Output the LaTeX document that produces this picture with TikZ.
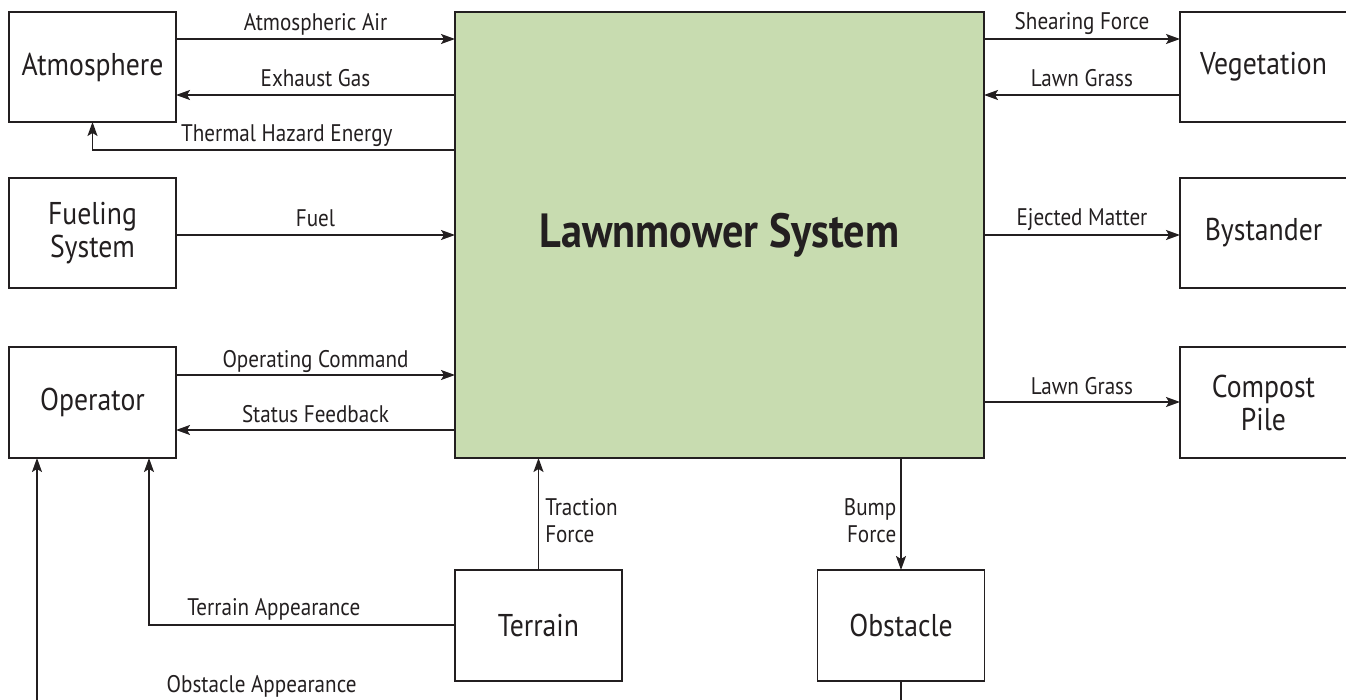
\documentclass[tikz,border=0pt]{standalone}
\usepackage{fontspec}
\setmainfont{PT Sans}[FakeStretch=0.88]
\usetikzlibrary{arrows.meta}
\definecolor{ink}{RGB}{35,31,32}
\definecolor{sysgreen}{RGB}{200,220,176}
\begin{document}
\begin{tikzpicture}[x=1pt,y=-1pt,
  box/.style={draw=ink, line width=1.7pt, minimum width=167pt, minimum height=110pt,
    inner sep=0pt, outer sep=0pt, align=center, text=ink,
    font=\fontsize{31.5}{33}\selectfont},
  flow/.style={draw=ink, line width=1.5pt, -{Stealth[length=14pt,width=10pt,inset=3pt]}},
  lbl/.style={font=\fontsize{24}{27}\selectfont, text=ink, inner sep=0pt}]
\useasboundingbox (0,0) rectangle (1346,700);

% surrounding elements
\node[box] (atm)  at (92.5,67)    {Atmosphere};
\node[box] (fuel) at (92.5,233)   {Fueling\\System};
\node[box, minimum height=111pt] (oper) at (92.5,402.5) {Operator};
\node[box] (veg)  at (1263.5,67)  {Vegetation};
\node[box] (bys)  at (1263.5,233) {Bystander};
\node[box, minimum height=111pt] (comp) at (1263.5,402.5) {Compost\\Pile};
\node[box, minimum height=111pt] (ter)  at (538.5,625.5) {Terrain};
\node[box, minimum height=111pt] (obs)  at (901,625.5)   {Obstacle};

% the system under study
\node[box, fill=sysgreen, minimum width=529pt, minimum height=446pt,
  font=\bfseries\fontsize{48}{52}\selectfont] (sys) at (719.5,235) {Lawnmower System};

% flows on the left
\draw[flow] (atm.east |- 0,39) -- (sys.west |- 0,39)
  node[lbl, midway, anchor=base, yshift=8pt] {Atmospheric Air};
\draw[flow] (sys.west |- 0,95) -- (atm.east |- 0,95)
  node[lbl, midway, anchor=base, yshift=8pt] {Exhaust Gas};
\draw[flow] (sys.west |- 0,150) -| (atm.south)
  node[lbl, pos=0.232, anchor=base, yshift=8pt] {Thermal Hazard Energy};
\draw[flow] (fuel.east |- 0,235) -- (sys.west |- 0,235)
  node[lbl, midway, anchor=base, yshift=8pt] {Fuel};
\draw[flow] (oper.east |- 0,375) -- (sys.west |- 0,375)
  node[lbl, midway, anchor=base, yshift=8pt] {Operating Command};
\draw[flow] (sys.west |- 0,430) -- (oper.east |- 0,430)
  node[lbl, midway, anchor=base, yshift=8pt] {Status Feedback};

% flows on the right
\draw[flow] (sys.east |- 0,39) -- (veg.west |- 0,39)
  node[lbl, midway, anchor=base, yshift=9pt] {Shearing Force};
\draw[flow] (veg.west |- 0,95) -- (sys.east |- 0,95)
  node[lbl, midway, anchor=base, yshift=8pt] {Lawn Grass};
\draw[flow] (sys.east |- 0,235) -- (bys.west |- 0,235)
  node[lbl, midway, anchor=base, yshift=9pt] {Ejected Matter};
\draw[flow] (sys.east |- 0,402) -- (comp.west |- 0,402)
  node[lbl, midway, anchor=base, yshift=8pt] {Lawn Grass};

% flows below
\draw[flow] (ter.north) -- (ter.north |- sys.south)
  node[lbl, pos=0.44, anchor=west, xshift=6pt, align=left] {Traction\\Force};
\draw[flow] (obs.north |- sys.south) -- (obs.north)
  node[lbl, pos=0.56, anchor=east, xshift=-4pt, align=right] {Bump\\Force};
\draw[flow] (ter.west |- 0,625) -| (oper.south -| 149,0)
  node[lbl, pos=0.296, anchor=base, yshift=10pt] {Terrain Appearance};
\coordinate (obsturn) at (obs.south |- 0,703);
\coordinate (operturn) at (37,703);
\draw[flow] (obs.south) -- (obsturn) -- (operturn)
  node[lbl, pos=0.74, anchor=base, yshift=11pt] {Obstacle Appearance}
  -- (oper.south -| operturn);
\end{tikzpicture}
\end{document}
